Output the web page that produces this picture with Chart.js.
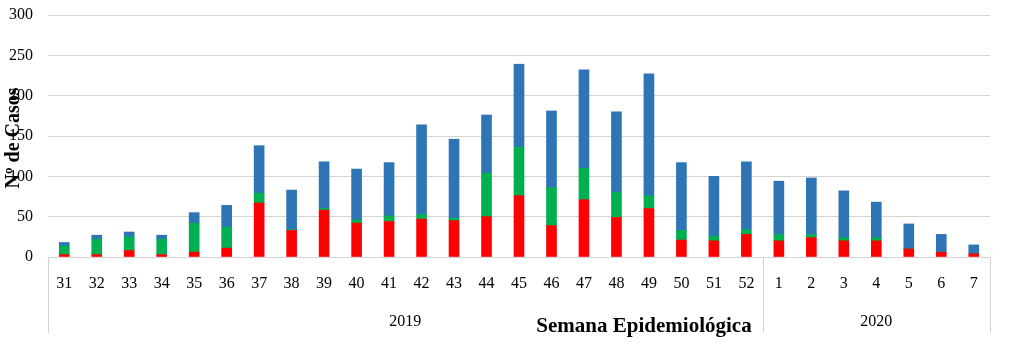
<!DOCTYPE html>
<html><head><meta charset="utf-8">
<script src="https://cdn.jsdelivr.net/npm/chart.js@4/dist/chart.umd.min.js"></script>
<style>html,body{margin:0;padding:0;background:#fff}#wrap{width:1024px;height:355px;position:relative}</style>
</head><body><div id="wrap"><canvas id="c"></canvas></div>
<script>
const weeks = ['31','32','33','34','35','36','37','38','39','40','41','42','43','44','45','46','47','48','49','50','51','52','1','2','3','4','5','6','7'];
const years = ['2019','2020'];
const weeksPerYear = [22, 7];
const redValues   = [3, 3, 8, 3, 6, 11, 67, 33, 58, 42, 44, 47, 45, 50, 76, 39, 71, 49, 60, 21, 20, 28, 20, 24, 20, 20, 10, 6, 4];
const greenValues = [11, 19, 17, 19, 36, 26, 12, 1, 2, 4, 7, 6, 3, 54, 60, 47, 39, 31, 16, 12, 6, 6, 8, 4, 4, 4, 0, 0, 0];
const blueValues  = [4, 5, 6, 5, 13, 27, 59, 49, 58, 63, 66, 111, 98, 72, 103, 95, 122, 100, 151, 84, 74, 84, 66, 70, 58, 44, 31, 22, 11];
const yMax = 300, yStep = 50;
const yTitle = 'Nº de Casos';
const xTitle = 'Semana Epidemiológica';

const serif = '"Liberation Serif","Times New Roman",serif';
const gridColor = '#d4d4d4';

const extras = {
  id: 'extras',
  afterDraw(chart) {
    const ctx = chart.ctx, ca = chart.chartArea, x = chart.scales.x;
    const bottom = ca.bottom, lineEnd = 333;
    const bounds = [ca.left];
    let idx = 0;
    weeksPerYear.forEach((n, k) => {
      idx += n;
      if (k < weeksPerYear.length - 1) bounds.push((x.getPixelForValue(idx - 1) + x.getPixelForValue(idx)) / 2);
    });
    bounds.push(ca.right);
    ctx.save();
    ctx.strokeStyle = gridColor; ctx.lineWidth = 1;
    bounds.forEach(b => {
      const bx = Math.round(b) + 0.5;
      ctx.beginPath(); ctx.moveTo(bx, bottom); ctx.lineTo(bx, lineEnd); ctx.stroke();
    });
    ctx.fillStyle = '#000';
    ctx.font = '16px ' + serif;
    ctx.textAlign = 'center'; ctx.textBaseline = 'middle';
    years.forEach((y, k) => ctx.fillText(y, (bounds[k] + bounds[k + 1]) / 2, 322));
    ctx.font = 'bold 21px ' + serif;
    ctx.fillText(xTitle, 644, 327);
    ctx.translate(14, 138); ctx.rotate(-Math.PI / 2);
    ctx.font = 'bold 20px ' + serif;
    ctx.fillText(yTitle, 0, 0);
    ctx.restore();
  }
};

new Chart(document.getElementById('c'), {
  type: 'bar',
  data: {
    labels: weeks,
    datasets: [
      { label: 'red', data: redValues, backgroundColor: '#ff0000', barThickness: 10 },
      { label: 'green', data: greenValues, backgroundColor: '#00b050', barThickness: 10 },
      { label: 'blue', data: blueValues, backgroundColor: '#2e75b6', barThickness: 10 }
    ]
  },
  options: {
    responsive: true, maintainAspectRatio: false, animation: false,
    layout: { padding: { top: 15, right: 34, bottom: 0, left: 0 } },
    plugins: { legend: { display: false }, tooltip: { enabled: false } },
    scales: {
      x: {
        stacked: true,
        grid: { display: false },
        border: { color: gridColor },
        ticks: { font: { family: serif, size: 16 }, color: '#000', padding: 9, maxRotation: 0, autoSkip: false },
        afterFit(s) { s.height = 98; s.paddingLeft = 0; s.paddingRight = 0; }
      },
      y: {
        stacked: true, min: 0, max: yMax,
        grid: { color: gridColor, drawTicks: false },
        border: { display: false },
        ticks: { stepSize: yStep, font: { family: serif, size: 16 }, color: '#000', padding: 15 },
        afterFit(s) { s.width = 48; s.paddingTop = 0; s.paddingBottom = 0; }
      }
    }
  },
  plugins: [extras]
});
</script>
</body></html>
